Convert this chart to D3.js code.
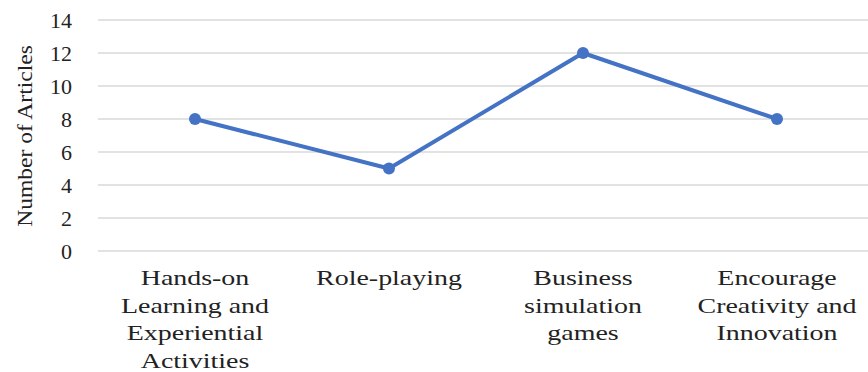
<!DOCTYPE html>
<html>
<head>
<meta charset="utf-8">
<script src="https://cdn.jsdelivr.net/npm/d3@7"></script>
<style>
body { margin: 0; background: #fff; }
</style>
</head>
<body>
<svg id="chart" width="868" height="372"></svg>
<script>
var categories = [
  ["Hands-on", "Learning and", "Experiential", "Activities"],
  ["Role-playing"],
  ["Business", "simulation", "games"],
  ["Encourage", "Creativity and", "Innovation"]
];
var articles = [8, 5, 12, 8];
var yTicks = [0, 2, 4, 6, 8, 10, 12, 14];

var serif = '"Liberation Serif"';
var svg = d3.select('#chart');

var x = d3.scaleBand()
  .domain(d3.range(categories.length))
  .range([98, 874]);

var y = d3.scaleLinear()
  .domain([0, 14])
  .range([251, 20]);

// gridlines
svg.append('g')
  .selectAll('line')
  .data(yTicks)
  .enter()
  .append('line')
  .attr('x1', 98)
  .attr('x2', 874)
  .attr('y1', function(d) { return y(d); })
  .attr('y2', function(d) { return y(d); })
  .attr('stroke', '#d9d9d9')
  .attr('stroke-width', 1.5);

// y tick labels
var yAxis = svg.append('g')
  .attr('transform', 'translate(98,0)')
  .call(d3.axisLeft(y).tickValues(yTicks).tickSize(0).tickPadding(26));
yAxis.select('.domain').remove();
yAxis.selectAll('text')
  .attr('font-size', 22)
  .attr('fill', '#222')
  .style('font-family', serif);

// y title
svg.append('text')
  .attr('transform', 'translate(32,136) rotate(-90) scale(1.07,1)')
  .attr('text-anchor', 'middle')
  .attr('font-size', 22)
  .attr('fill', '#222')
  .style('font-family', serif)
  .text('Number of Articles');

// x labels (the source text is stretched sideways)
var xLabels = svg.append('g');
categories.forEach(function(lines, i) {
  var cx = x(i) + x.bandwidth() / 2;
  var t = xLabels.append('text')
    .attr('text-anchor', 'middle')
    .attr('font-size', 22)
    .attr('fill', '#222')
    .style('font-family', serif)
    .attr('transform', 'translate(' + cx + ',285) scale(1.27,1)');
  lines.forEach(function(s, j) {
    t.append('tspan')
      .attr('x', 0)
      .attr('dy', j === 0 ? 0 : 27.7)
      .text(s);
  });
});

// line
var line = d3.line()
  .x(function(d, i) { return x(i) + x.bandwidth() / 2; })
  .y(function(d) { return y(d); });

svg.append('path')
  .datum(articles)
  .attr('d', line)
  .attr('fill', 'none')
  .attr('stroke', '#4472C4')
  .attr('stroke-width', 4)
  .attr('stroke-linejoin', 'round');

svg.selectAll('circle.pt')
  .data(articles)
  .enter()
  .append('circle')
  .attr('class', 'pt')
  .attr('cx', function(d, i) { return x(i) + x.bandwidth() / 2; })
  .attr('cy', function(d) { return y(d); })
  .attr('r', 6)
  .attr('fill', '#4472C4');
</script>
</body>
</html>
